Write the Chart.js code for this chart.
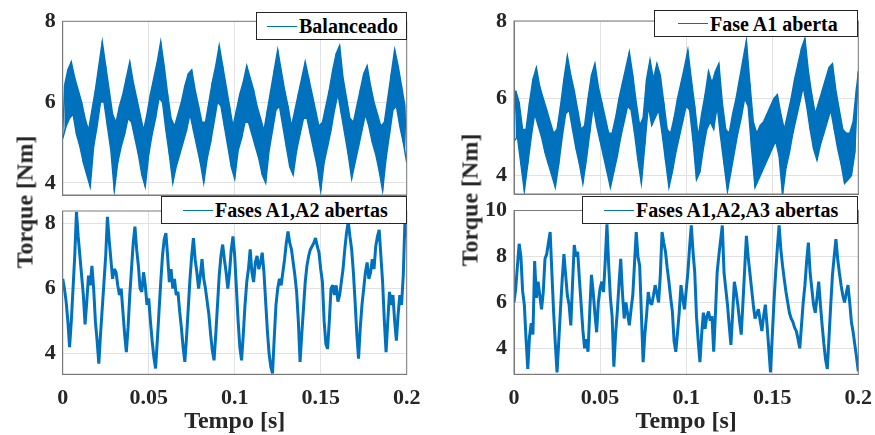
<!DOCTYPE html>
<html><head><meta charset="utf-8">
<script src="https://cdn.jsdelivr.net/npm/chart.js@4.4.1/dist/chart.umd.min.js"></script>
<style>
body{margin:0;background:#fff;width:875px;height:435px;overflow:hidden;position:relative;font-family:"Liberation Serif",serif;}
canvas{position:absolute;}
.leg{position:absolute;background:#fff;border:1px solid #262626;box-sizing:border-box;display:flex;align-items:center;font-weight:bold;font-size:20px;color:#000;white-space:nowrap;z-index:5;line-height:1;}
.leg i{display:inline-block;width:30px;height:0;border-top:1px solid #0072BD;margin-right:2px;}
.ylab{position:absolute;font-weight:bold;font-size:24px;color:#262626;white-space:nowrap;transform:translate(-50%,-50%) rotate(-90deg);z-index:5;}
</style></head><body>
<canvas id="c1" width="420" height="200" style="left:0;top:0"></canvas>
<canvas id="c2" width="420" height="235" style="left:0;top:200px"></canvas>
<canvas id="c3" width="435" height="200" style="left:440px;top:0"></canvas>
<canvas id="c4" width="435" height="235" style="left:440px;top:200px"></canvas>
<div class="leg" style="left:256px;top:12px;width:151px;height:28px;padding-left:10px"><i></i><span id="l1"></span></div>
<div class="leg" style="left:161px;top:196px;width:246px;height:28px;padding-left:21px"><i></i><span id="l2"></span></div>
<div class="leg" style="left:654px;top:10px;width:204px;height:27px;padding-left:23px"><i></i><span id="l3"></span></div>
<div class="leg" style="left:582px;top:196px;width:276px;height:28px;padding-left:21px"><i></i><span id="l4"></span></div>
<div class="ylab" style="left:25px;top:202px">Torque [Nm]</div>
<div class="ylab" style="left:470px;top:200px">Torque [Nm]</div>
<script>
// sample step of the recorded signals (s)
const dt = 0.001;
const xTicks = [0, 0.05, 0.1, 0.15, 0.2];
const xTickLabels = ['0', '0.05', '0.1', '0.15', '0.2'];
const seriesNames = ['Balanceado', 'Fases A1,A2 abertas', 'Fase A1 aberta', 'Fases A1,A2,A3 abertas'];

// noisy signals: samples alternate between the lower and upper edge of the noise band
const balanceado = [5.1,6.4,5.4,6.8,5.6,7.0,5.7,6.6,5.2,6.3,
4.9,6.0,4.5,5.6,4.2,5.3,3.9,5.8,4.9,6.3,
5.4,6.9,6.0,7.5,6.0,6.9,5.4,6.3,4.8,5.7,
3.8,5.5,4.5,5.9,4.9,6.2,5.2,6.6,5.6,7.0,
5.5,6.5,5.1,6.1,4.7,5.7,4.2,5.3,3.9,5.7,
4.7,6.2,5.2,6.6,5.6,7.0,6.1,7.5,6.0,6.9,
5.3,6.2,4.7,5.6,4.0,5.4,4.4,5.7,4.7,6.0,
5.0,6.4,5.3,6.7,5.7,6.8,5.3,6.3,4.9,5.9,
4.5,5.5,4.0,5.5,4.6,6.0,5.0,6.5,5.5,6.9,
6.0,7.4,5.9,6.9,5.4,6.4,4.9,5.9,4.4,5.4,
4.1,5.8,4.8,6.2,5.1,6.5,5.5,6.9,5.5,6.6,
5.2,6.3,4.9,5.9,4.6,5.6,4.2,5.3,4.0,5.8,
4.8,6.3,5.3,6.8,5.8,7.3,5.9,6.8,5.4,6.3,
4.9,5.9,4.4,5.4,4.2,5.8,4.8,6.2,5.2,6.6,
5.6,7.0,5.6,6.6,5.2,6.2,4.8,5.8,4.4,5.4,
3.8,5.5,4.5,5.9,4.9,6.3,5.3,6.8,5.8,7.2,
6.2,7.4,5.7,6.6,5.2,6.1,4.7,5.6,4.1,5.5,
4.5,5.9,4.9,6.3,5.3,6.7,5.7,6.9,5.4,6.4,
5.0,6.0,4.7,5.7,4.3,5.4,3.8,5.5,4.6,6.1,
5.2,6.7,5.8,7.3,5.9,6.9,5.4,6.4,5.0,5.9,
4.5];

const faseA1 = [4.9,6.2,5.0,5.9,4.3,5.2,3.6,5.2,4.3,5.9,
5.0,6.5,5.6,6.8,5.3,6.3,5.0,6.0,4.6,5.7,
4.3,5.4,4.0,5.1,3.7,5.2,4.3,5.8,5.0,6.5,
5.6,7.1,5.7,6.6,5.2,6.2,4.7,5.7,4.3,5.2,
3.8,5.3,4.4,6.0,5.1,6.6,5.8,6.9,5.3,6.3,
4.9,5.9,4.5,5.5,4.1,5.1,3.7,5.1,4.1,5.5,
4.5,6.0,5.0,6.4,5.4,6.8,5.8,7.2,5.7,6.6,
5.1,5.9,4.4,5.3,3.8,5.5,4.8,6.5,5.8,7.0,
5.3,6.5,5.5,6.9,5.7,6.6,5.1,5.9,4.4,5.2,
3.7,5.1,4.1,5.5,4.6,6.0,5.0,6.4,5.4,6.8,
5.8,7.25,5.7,6.5,4.9,5.8,3.9,5.0,4.1,5.6,
4.7,6.1,5.2,6.7,5.4,6.4,5.2,6.7,5.8,6.9,
5.0,5.9,4.3,5.2,3.6,5.1,4.1,5.6,4.6,6.0,
5.1,6.5,5.5,7.0,6.0,7.5,5.8,6.4,4.7,5.4,
3.7,5.1,3.9,5.3,4.1,5.4,4.3,5.6,4.5,5.8,
4.7,6.0,4.9,6.1,4.5,5.6,3.5,5.2,4.2,5.6,
4.6,6.0,5.1,6.5,5.5,6.9,5.9,7.3,6.3,7.55,
5.8,6.7,5.2,6.1,4.7,5.6,4.4,5.9,4.8,6.2,
5.1,6.5,5.4,6.8,5.7,6.9,5.2,6.2,4.7,5.7,
4.3,5.2,3.8,5.1,3.9,5.1,4.0,5.4,4.6,6.3,
6.7];

const fasesA1A2 = [6.3,6.0,5.6,5.0,4.2,5.0,6.0,7.0,8.35,7.6,
7.0,6.4,5.8,4.9,5.6,6.4,6.1,6.7,6.0,5.0,
4.4,3.7,4.6,5.4,6.2,7.0,8.2,7.5,6.9,6.3,
6.6,6.5,6.1,5.8,6.0,5.3,4.6,4.05,4.8,5.8,
6.6,7.4,7.9,7.2,6.7,6.0,5.9,6.5,6.1,5.5,
5.7,5.0,4.4,3.9,3.55,4.4,5.3,6.2,7.0,7.5,
7.7,7.0,6.2,6.6,6.0,6.3,5.8,5.9,5.3,4.8,
4.2,3.75,4.5,5.4,6.3,7.0,7.55,6.9,6.5,6.0,
6.4,6.9,6.3,6.0,5.6,5.2,4.6,4.1,3.8,4.6,
5.5,6.4,7.0,7.35,6.9,6.5,6.0,6.5,7.2,7.6,
7.0,6.0,5.0,4.2,3.8,4.6,5.5,6.2,6.6,7.2,
6.5,6.2,6.8,7.0,6.6,6.8,7.1,6.5,5.6,4.7,
4.0,3.6,3.4,4.5,5.5,6.0,6.3,6.1,6.5,6.9,
7.4,7.75,7.4,7.2,6.8,6.4,5.9,5.0,3.75,4.6,
5.4,6.2,6.7,7.0,7.2,7.3,7.4,7.55,7.3,7.1,
6.6,6.2,5.0,4.3,4.15,5.0,6.0,6.1,5.8,6.1,
5.6,5.8,6.2,6.6,7.2,7.7,8.05,7.6,7.2,6.5,
5.6,4.6,3.85,4.8,5.5,6.0,6.5,6.8,6.3,6.5,
6.9,6.6,7.3,7.6,7.8,7.0,6.2,5.0,4.05,5.0,
5.9,5.5,5.8,5.0,4.4,5.2,5.8,5.5,6.4,8.1,
7.6];

const fasesA1A2A3 = [6.0,6.6,7.6,8.55,8.0,6.5,5.9,4.4,3.1,4.5,
5.1,4.6,7.8,6.2,6.9,6.3,5.7,6.45,7.9,8.1,
8.6,9.06,7.3,5.6,4.2,2.95,4.3,5.7,7.0,8.1,
7.2,6.3,5.9,5.0,6.8,8.5,8.0,8.2,7.0,5.9,
4.8,4.0,4.4,3.85,5.6,7.2,6.45,5.5,4.7,6.0,
6.6,6.9,6.45,7.8,9.4,7.6,6.2,5.4,3.2,4.6,
5.6,6.8,7.9,6.4,5.3,6.0,5.5,5.0,5.7,6.3,
7.7,9.06,8.0,7.6,5.5,3.4,4.6,5.45,6.45,6.0,
5.9,6.3,6.75,6.4,6.0,7.2,9.06,8.6,8.2,7.5,
6.9,6.2,5.6,4.3,3.85,4.7,5.6,6.75,6.2,5.7,
6.5,7.3,8.4,9.35,8.2,7.3,5.4,4.3,3.4,4.6,
5.55,4.85,5.4,5.6,5.2,5.4,3.85,5.5,7.3,8.05,
8.7,9.35,7.3,6.6,5.9,5.0,4.15,5.5,6.9,6.45,
5.9,5.2,4.6,6.0,7.45,8.9,8.0,7.3,6.6,5.9,
5.3,5.5,5.7,5.2,4.75,5.4,5.9,5.0,4.0,2.95,
4.5,6.0,7.3,8.4,9.35,8.3,7.6,7.0,6.45,6.0,
5.55,5.3,5.15,4.9,4.75,4.4,4.0,5.0,6.0,6.75,
7.8,8.6,7.3,6.6,5.9,5.55,6.2,6.9,5.9,5.0,
4.2,3.5,3.1,4.5,5.9,7.2,8.0,8.75,7.9,7.3,
6.75,6.3,6.0,6.4,6.75,6.0,5.15,4.7,4.15,3.6,
3.0];

const yTicksA = [4, 6, 8];
const yTicksB = [4, 6, 8, 10];

const F = '"Liberation Serif", serif';
const LINE = '#0072BD';
const AX = '#7a7a7a';
const GRID = '#e2e2e2';

function pts(vals){ return vals.map((v,i)=>({x: Math.round(i*dt*1000)/1000, y: v})); }

const boxPlugin = { id:'box', afterDraw(c){
  const a = c.chartArea, g = c.ctx;
  g.save(); g.strokeStyle = AX; g.lineWidth = 1;
  g.strokeRect(a.left, a.top, a.right - a.left, a.bottom - a.top);
  g.restore();
}};

function datasetsFor(vals, o){
  const all = pts(vals);
  if (!o.band) {
    return [{ data: all, borderColor: LINE, borderWidth: o.lw, borderJoinStyle: 'bevel', pointRadius: 0, tension: 0, fill: false }];
  }
  // band: upper edge samples (odd) and lower edge samples (even), filled between, plus the raw trace
  const hi = all.filter((p, i) => i % 2 === 1);
  const lo = all.filter((p, i) => i % 2 === 0);
  return [
    { data: hi, borderColor: LINE, borderWidth: 1.4, pointRadius: 0, tension: 0, fill: false },
    { data: lo, borderColor: LINE, borderWidth: 1.4, pointRadius: 0, tension: 0, fill: '-1', backgroundColor: LINE },
    { data: all, borderColor: LINE, borderWidth: 1.2, borderJoinStyle: 'bevel', pointRadius: 0, tension: 0, fill: false }
  ];
}

function makePanel(id, vals, o){
  new Chart(document.getElementById(id), {
    type: 'line',
    data: { datasets: datasetsFor(vals, o) },
    options: {
      responsive: false, animation: false, events: [],
      layout: { padding: { top: o.pt, right: o.pr, left: 0, bottom: 0 } },
      plugins: { legend: { display: false }, tooltip: { enabled: false }, filler: { propagate: false } },
      scales: {
        x: { type: 'linear', min: 0, max: 0.2,
          afterBuildTicks: s => { s.ticks = xTicks.map(v => ({ value: v })); },
          afterFit: s => { s.height = o.xh; s.paddingLeft = 0; s.paddingRight = 0; },
          grid: { color: GRID, drawTicks: false },
          border: { color: AX },
          ticks: { display: o.xl, padding: 11, color: '#262626', maxRotation: 0, autoSkip: false,
            font: { family: F, size: 22, weight: 'bold' }, callback: (v, i) => xTickLabels[i] },
          title: { display: o.xl, text: 'Tempo [s]', color: '#262626',
            font: { family: F, size: 24, weight: 'bold' }, padding: { top: 0, bottom: -1 } } },
        y: { min: o.ymin, max: o.ymax,
          afterBuildTicks: s => { s.ticks = o.yt.map(v => ({ value: v })); },
          afterFit: s => { s.width = o.yw; s.paddingTop = 0; s.paddingBottom = 0; },
          grid: { color: GRID, drawTicks: false },
          border: { color: AX },
          ticks: { padding: 7, color: '#262626', font: { family: F, size: 22, weight: 'bold' },
            callback: v => String(v) } }
      }
    },
    plugins: [boxPlugin]
  });
}

makePanel('c1', balanceado, { band: true, pt: 21.3, pr: 13.3, yw: 62.7, xh: 5, ymin: 3.7, ymax: 8, yt: yTicksA, xl: false });
makePanel('c2', fasesA1A2, { lw: 3, pt: 11, pr: 13.3, yw: 62.7, xh: 60.7, ymin: 3.37, ymax: 8.38, yt: yTicksA, xl: true });
makePanel('c3', faseA1, { band: true, pt: 21, pr: 16.7, yw: 74, xh: 6, ymin: 3.53, ymax: 8, yt: yTicksA, xl: false });
makePanel('c4', fasesA1A2A3, { lw: 3, pt: 10.5, pr: 16.7, yw: 74, xh: 60.7, ymin: 2.87, ymax: 10, yt: yTicksB, xl: true });

document.getElementById('l1').textContent = seriesNames[0];
document.getElementById('l2').textContent = seriesNames[1];
document.getElementById('l3').textContent = seriesNames[2];
document.getElementById('l4').textContent = seriesNames[3];
</script>
</body></html>
